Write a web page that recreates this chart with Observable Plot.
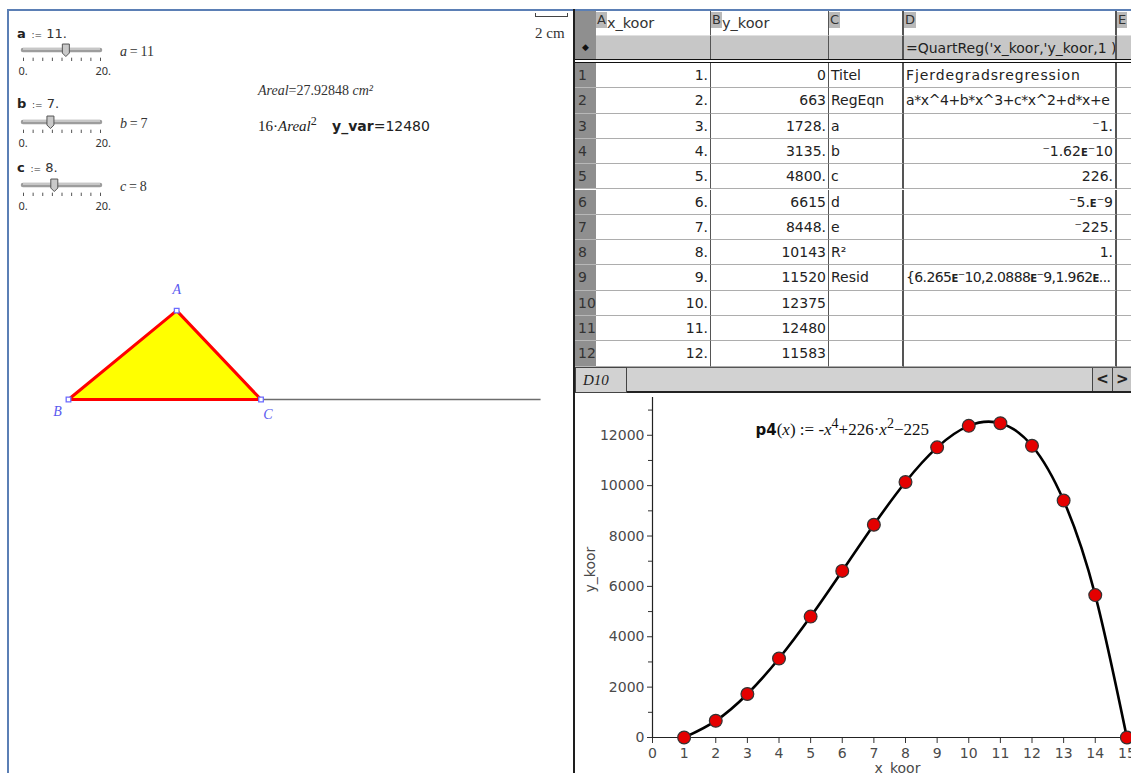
<!DOCTYPE html>
<html><head><meta charset="utf-8">
<script src="https://cdn.jsdelivr.net/npm/d3@7"></script>
<script src="https://cdn.jsdelivr.net/npm/@observablehq/plot@0.6"></script>
<style>
html,body{margin:0;padding:0;background:#fff;overflow:hidden}
#page{position:relative;width:1131px;height:773px;overflow:hidden;background:#fff;font-family:"DejaVu Sans",sans-serif;color:#222}
.abs{position:absolute;box-sizing:border-box}
.serif{font-family:"Liberation Serif","DejaVu Serif",serif}
.cell{font-size:14px;line-height:24px;white-space:nowrap;overflow:hidden;padding:0 2px}
.e{font-weight:bold;font-size:10px}
</style></head><body><div id="page"></div>
<script>
// ---------------- data ----------------
const sliderNames = ["a", "b", "c"];
const sliderValues = [11, 7, 8];
const sliderRange = [0, 20];
const arealValue = "27.92848";
const yVarValue = 12480;

const xKoor = [1, 2, 3, 4, 5, 6, 7, 8, 9, 10, 11, 12, 13, 14, 15];
const yKoor = [0, 663, 1728, 3135, 4800, 6615, 8448, 10143, 11520, 12375, 12480, 11583, 9408, 5655, 0];
const xKoorText = ["1.", "2.", "3.", "4.", "5.", "6.", "7.", "8.", "9.", "10.", "11.", "12."];
const yKoorText = ["0", "663", "1728.", "3135.", "4800.", "6615", "8448.", "10143", "11520", "12375", "12480", "11583"];
const statLabels = ["Titel", "RegEqn", "a", "b", "c", "d", "e", "R²", "Resid", "", "", ""];
const statValues = ["Fjerdegradsregression", "a*x^4+b*x^3+c*x^2+d*x+e", "⁻1.", "⁻1.62ᴇ⁻10", "226.", "⁻5.ᴇ⁻9", "⁻225.", "1.", "{6.265ᴇ⁻10,2.0888ᴇ⁻9,1.962ᴇ...", "", "", ""];
const statAlign = ["left", "left", "right", "right", "right", "right", "right", "right", "left", "left", "left", "left"];
const columnLetters = ["A", "B", "C", "D", "E"];
const columnNames = ["x_koor", "y_koor", "", "", ""];
const formulaCell = "=QuartReg('x_koor,'y_koor,1 )";
const xTicks = [0, 1, 2, 3, 4, 5, 6, 7, 8, 9, 10, 11, 12, 13, 14, 15];
const yTicks = [0, 2000, 4000, 6000, 8000, 10000, 12000];
const yMinorTicks = [1000, 3000, 5000, 7000, 9000, 11000, 13000];
const xLabel = "x_koor";
const yLabel = "y_koor";

// ---------------- layout ----------------
const page = d3.select("#page");
function box(x, y, w, h, bg) {
  return page.append("div").attr("class", "abs").style("left", x + "px").style("top", y + "px")
    .style("width", w + "px").style("height", h + "px").style("background", bg);
}
function label(x, y, html, css = {}) {
  const d = page.append("div").attr("class", "abs").style("left", x + "px").style("top", y + "px")
    .style("white-space", "nowrap").html(html);
  for (const k in css) d.style(k, css[k]);
  return d;
}

// frame borders
box(7, 9, 1124, 2, "#5b7fb5");
box(7, 9, 2, 764, "#5b7fb5");

// ---------- left panel: sliders ----------
const sliderTop = [33, 103, 167];   // label rows
const trackY = [51, 123, 186];
const thumbSymbol = {
  draw(ctx) {
    ctx.moveTo(-3.5, -6); ctx.lineTo(3.5, -6); ctx.lineTo(3.5, 3); ctx.lineTo(0, 6.5);
    ctx.lineTo(-3.5, 3); ctx.closePath();
  }
};
sliderNames.forEach((name, i) => {
  const v = sliderValues[i];
  label(17, sliderTop[i] - 9,
    `<b style="font-size:13px">${name}</b><span style="font-size:9px;color:#333">&nbsp;&nbsp;:=</span><span style="font-size:13px;color:#333">&nbsp;${v}.</span>`,
    {"line-height": "18px"});
  const sp = Plot.plot({
    width: 100, height: 42, margin: 0,
    x: {domain: sliderRange, range: [9, 86], axis: null},
    y: {domain: [-3.4, 1], range: [42, 0], axis: null},
    style: {background: "transparent", overflow: "visible"},
    marks: [
      Plot.ruleY([0], {x1: sliderRange[0], x2: sliderRange[1], stroke: "#9d9d9d", strokeWidth: 4.5, strokeLinecap: "round"}),
      Plot.ruleY([0], {x1: sliderRange[0], x2: sliderRange[1], stroke: "#d6d6d6", strokeWidth: 1.5, dy: -1}),
      Plot.ruleX(d3.range(sliderRange[0], sliderRange[1] + 1, 2.5), {y1: -0.85, y2: -1.2, stroke: "#555", strokeWidth: 1}),
      Plot.dot([v], {x: d => d, y: 0, symbol: thumbSymbol, r: 4, fill: "#c9c9c9", stroke: "#555", strokeWidth: 1}),
      Plot.text(sliderRange, {x: d => d, y: -2.2, text: d => d + ".", fontSize: 11, fill: "#333",
        textAnchor: "start", dx: -5})
    ]
  });
  d3.select(sp).style("position", "absolute").style("left", "14px").style("top", (trackY[i] - 11) + "px");
  page.node().appendChild(sp);
  label(120, trackY[i] - 10, `<span class="serif"><i>${name}</i>&thinsp;=&thinsp;${v}</span>`, {"font-size": "14px", "line-height": "20px", color: "#333"});
});

// Areal texts
label(258, 80, `<span class="serif"><i>Areal</i>=${arealValue} <i>cm²</i></span>`, {"font-size": "14px", "line-height": "20px", color: "#333"});
label(258, 111, `<span class="serif" style="font-size:15px">16·<i>Areal</i><sup style="font-size:12px;vertical-align:6px">2</sup></span>&nbsp;&nbsp;&nbsp;<b style="font-size:14px">y_var</b><span style="font-size:14px">=${yVarValue}</span>`, {"line-height": "20px", color: "#222"});

// scale bar "2 cm"
box(535, 16, 33, 1, "#444");
box(535, 13, 1, 4, "#444");
box(567, 13, 1, 4, "#444");
label(535, 23, `<span class="serif">2 cm</span>`, {"font-size": "15px", "line-height": "20px", color: "#333"});

// ---------- left panel: triangle via Plot ----------
{
  const [a, b, c] = sliderValues;               // a = BC, b = CA, c = AB
  const Ax = (c * c + a * a - b * b) / (2 * a);
  const Ay = Math.sqrt(c * c - Ax * Ax);
  const verts = [{name: "B", x: 0, y: 0}, {name: "A", x: Ax, y: Ay}, {name: "C", x: a, y: 0}];
  const lab = {fill: "#5a5af0", fontSize: 14, fontStyle: "italic", fontFamily: "Liberation Serif"};
  const tp = Plot.plot({
    width: 565, height: 160, margin: 0,
    x: {domain: [-3.37, 28.91], range: [0, 565], axis: null},
    y: {domain: [-1.77, 7.37], range: [160, 0], axis: null},
    style: {background: "transparent", overflow: "visible"},
    marks: [
      Plot.ruleY([0], {x1: 0, x2: 27, stroke: "#6d6d6d", strokeWidth: 1.5}),
      Plot.areaY(verts, {x: "x", y: "y", fill: "#ffff00"}),
      Plot.line([...verts, verts[0]], {x: "x", y: "y", stroke: "#ff0000", strokeWidth: 3, strokeLinejoin: "round"}),
      Plot.dot(verts, {x: "x", y: "y", symbol: "square", r: 2.6, fill: "white", stroke: "#6b6bff", strokeWidth: 1.3}),
      Plot.text(verts.filter(d => d.name === "A"), {x: "x", y: "y", text: "name", dy: -21, ...lab}),
      Plot.text(verts.filter(d => d.name === "B"), {x: "x", y: "y", text: "name", dx: -11, dy: 12, ...lab}),
      Plot.text(verts.filter(d => d.name === "C"), {x: "x", y: "y", text: "name", dx: 7, dy: 15, ...lab})
    ]
  });
  d3.select(tp).style("position", "absolute").style("left", "9px").style("top", "270px");
  page.node().appendChild(tp);
}

// divider between panels
box(573, 9, 2, 764, "#1e1e1e");

// ---------- spreadsheet ----------
const colX = [596, 711, 829, 904, 1117];
const colW = [115, 118, 75, 213, 40];
const rowTop = 63, rowH = 25.3;
// corner + header row
box(575, 11, 21, 24, "#8f8f8f");
columnLetters.forEach((L, i) => {
  box(colX[i], 11, colW[i], 24, "#fff").attr("class", "abs cell")
    .style("border-right", (i >= 2 ? "2px" : "1px") + " solid #555").style("padding", "0")
    .html(`<span style="display:inline-block;background:#b9b9b9;color:#333;padding:0 1px;line-height:16px;vertical-align:top;margin-top:1px;font-size:13px">${L}</span><span style="color:#333;font-size:14.5px">${columnNames[i]}</span>`);
});
// formula row
box(575, 35, 21, 24, "#8f8f8f").html(`<div style="text-align:center;font-size:9px;line-height:24px;color:#111">◆</div>`);
columnLetters.forEach((L, i) => {
  box(colX[i], 35, colW[i], 24, "#c7c7c7").attr("class", "abs cell")
    .style("border-right", (i >= 2 ? "2px" : "1px") + " solid #555")
    .style("border-top", "1px solid #e0e0e0")
    .text(i === 3 ? formulaCell : "");
});
box(575, 59, 556, 1, "#111");
box(575, 62, 556, 1, "#111");
box(575, 60, 556, 2, "#fff");
// data rows
const spacing = (r, i) => i !== 3 ? "0" : (r === 0 ? "0.9px" : r === 1 ? "-0.4px" : r === 8 ? "-0.6px" : "0");
xKoorText.forEach((xt, r) => {
  const y = rowTop + r * rowH;
  box(575, y, 21, rowH, "#8f8f8f").attr("class", "abs cell")
    .style("border-bottom", "1px solid #b8b8b8").style("padding", "0 0 0 3px")
    .style("color", "#333").style("line-height", rowH + "px").text(r + 1);
  const vals = [xt, yKoorText[r], statLabels[r], statValues[r], ""];
  const aligns = ["right", "right", "left", statAlign[r], "left"];
  vals.forEach((v, i) => {
    box(colX[i], y, colW[i], rowH, "#fff").attr("class", "abs cell")
      .style("border-right", (i >= 2 ? "2px" : "1px") + " solid #555")
      .style("border-bottom", "1px solid #adadad")
      .style("line-height", (rowH - 1) + "px")
      .style("text-align", aligns[i])
      .style("letter-spacing", spacing(r, i))
      .html(String(v).replace(/ᴇ/g, '<span class="e">E</span>'));
  });
});
// status bar
box(575, 367, 556, 26, "#d2d2d2").style("border-top", "1px solid #555").style("border-bottom", "2px solid #222");
box(575, 367, 52, 26, "#d2d2d2").style("border", "1px solid #444")
  .html(`<div class="serif" style="font-style:italic;font-size:15px;line-height:24px;padding-left:7px;color:#222">D10</div>`);
box(1092, 368, 21, 23, "#c4c4c4").style("border-left", "1px solid #444").style("border-right", "1px solid #444")
  .html(`<div style="font-weight:bold;font-size:15px;line-height:22px;text-align:center">&lt;</div>`);
box(1113, 368, 21, 23, "#c4c4c4")
  .html(`<div style="font-weight:bold;font-size:15px;line-height:22px;padding-left:3px">&gt;</div>`);

// ---------- scatter plot with regression curve ----------
const pts = xKoor.map((x, i) => ({x, y: yKoor[i]}));
const chart = Plot.plot({
  width: 582, height: 380,
  marginLeft: 76, marginRight: 0, marginTop: 4, marginBottom: 36,
  x: {domain: [0, 16]},
  y: {domain: [0, 13500]},
  style: {fontFamily: "DejaVu Sans", fontSize: "14px", color: "#4a4a4a", background: "transparent", overflow: "visible"},
  marks: [
    Plot.axisY({ticks: yTicks, tickFormat: d => String(d), tickSize: 5, tickPadding: 3, label: null, stroke: "#333"}),
    Plot.axisY({ticks: yMinorTicks, tickSize: 4, text: null, label: null, stroke: "#333"}),
    Plot.axisX({ticks: xTicks, tickFormat: d => String(d), tickSize: 6, tickPadding: 5, label: null, stroke: "#333"}),
    Plot.ruleX([0], {stroke: "#222", strokeWidth: 1.2}),
    Plot.ruleY([0], {stroke: "#222", strokeWidth: 1.2}),
    Plot.text([xLabel], {frameAnchor: "bottom", dx: -8, dy: 35, fill: "#4a4a4a", fontSize: 14}),
    Plot.text([yLabel], {frameAnchor: "left", rotate: -90, dx: -62, dy: 25, fill: "#4a4a4a", fontSize: 14}),
    Plot.line(pts, {x: "x", y: "y", curve: "natural", stroke: "#000", strokeWidth: 2.6, clip: true}),
    Plot.dot(pts, {x: "x", y: "y", r: 6.4, fill: "#e50000", stroke: "#333", strokeWidth: 1.2}),
    Plot.text(["p4(x) := -x^4+226·x^2−225"], {frameAnchor: "top-left", dx: 103, dy: 28, textAnchor: "start", fill: "#111", fontSize: 14, className: "formula"})
  ]
});
// rich formatting of the regression formula
{
  const t = chart.querySelector(".formula text");
  if (t) {
    t.textContent = "";
    const S = "font-family:'Liberation Serif';font-size:17px";
    const parts = [
      ["p4", "font-family:'DejaVu Sans';font-weight:bold;font-size:15px", 0],
      ["(", S, 0],
      ["x", S + ";font-style:italic", 0],
      [") := -", S, 0],
      ["x", S + ";font-style:italic", 0],
      ["4", "font-family:'Liberation Serif';font-size:14px", -7],
      ["+226·", S, 7],
      ["x", S + ";font-style:italic", 0],
      ["2", "font-family:'Liberation Serif';font-size:14px", -7],
      ["−225", S, 7]
    ];
    for (const [s, css, dy] of parts) {
      const ts = document.createElementNS("http://www.w3.org/2000/svg", "tspan");
      ts.setAttribute("style", css);
      if (dy) ts.setAttribute("dy", dy);
      ts.textContent = s;
      t.appendChild(ts);
    }
  }
}
d3.select(chart).style("position", "absolute").style("left", "576px").style("top", "393px").style("max-width", "none");
page.node().appendChild(chart);
</script></body></html>
